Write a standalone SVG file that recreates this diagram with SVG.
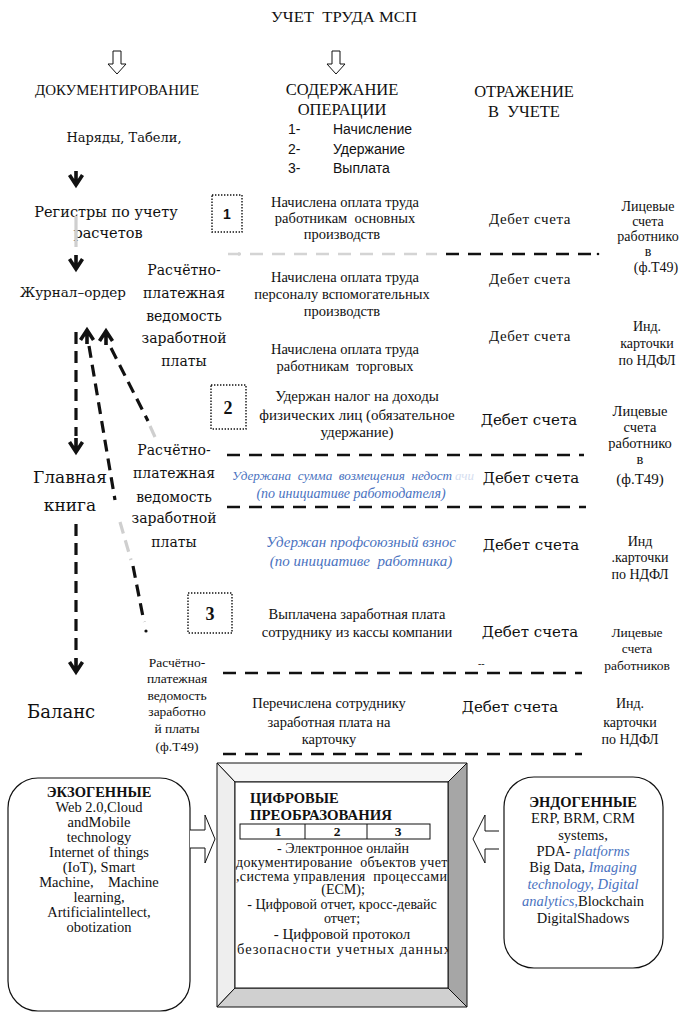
<svg xmlns="http://www.w3.org/2000/svg" xmlns:xlink="http://www.w3.org/1999/xlink" width="685" height="1015" viewBox="0 0 685 1015">
  <defs>
    <style>
      .t { font-family: "Liberation Serif", "Times New Roman", serif; fill: #111; }
      .c { font-family: "DejaVu Serif", "Liberation Serif", serif; fill: #111; }
      .s { font-family: "Liberation Sans", Arial, sans-serif; fill: #111; }
      .blue { font-family: "Liberation Serif", serif; font-style: italic; fill: #4a72c0; }
      .mid { text-anchor: middle; }
      .b { font-weight: bold; }
      .dash { fill: none; stroke: #111; stroke-width: 2.6; stroke-dasharray: 13 9; }
      .dashG { fill: none; stroke: #d4d4d4; stroke-width: 2.6; stroke-dasharray: 13 9; }
      .vdash { fill: none; stroke: #111; stroke-width: 3.2; stroke-dasharray: 12 7; }
      .gray { fill: none; stroke: #cfcfcf; stroke-width: 3.2; }
      .dot { fill: none; stroke: #111; stroke-width: 1.4; stroke-dasharray: 1.4 1.6; }
      .hollow { fill: #fff; stroke: #111; stroke-width: 1; }
      .line { fill: none; stroke: #111; stroke-width: 1; }
    </style>
    <!-- bold chevron arrowhead with a short stem, tip at the origin -->
    <path id="ahDown" d="M-6.5,-10 L0,0 L6.5,-10 M0,-14 V0" fill="none" stroke="#111" stroke-width="3.6" stroke-linejoin="miter"/>
    <clipPath id="frameClip"><rect x="235" y="782" width="213" height="206"/></clipPath>
  </defs>
  <rect width="685" height="1015" fill="#fff"/>

  <!-- headings -->
  <g id="title">
    <text class="t mid" x="344" y="22" font-size="15.5" xml:space="preserve" textLength="146" lengthAdjust="spacingAndGlyphs">УЧЕТ  ТРУДА МСП</text>
  </g>
  <g id="head-doc">
    <text class="t mid" x="117" y="95" font-size="15" textLength="164" lengthAdjust="spacingAndGlyphs">ДОКУМЕНТИРОВАНИЕ</text>
  </g>
  <g id="head-content">
    <text class="t mid" x="342" y="95" font-size="16.5">СОДЕРЖАНИЕ</text>
    <text class="t mid" x="342" y="115" font-size="16.5">ОПЕРАЦИИ</text>
    <text class="s" x="288" y="134" font-size="14">1-</text>
    <text class="s" x="333" y="134" font-size="14">Начисление</text>
    <text class="s" x="288" y="154" font-size="14">2-</text>
    <text class="s" x="333" y="154" font-size="14">Удержание</text>
    <text class="s" x="288" y="173" font-size="14">3-</text>
    <text class="s" x="333" y="173" font-size="14">Выплата</text>
  </g>
  <g id="head-reflect">
    <text class="t mid" x="524" y="97" font-size="16.5">ОТРАЖЕНИЕ</text>
    <text class="t mid" x="524" y="117" font-size="16.5" xml:space="preserve">В  УЧЕТЕ</text>
  </g>

  <!-- documentation chain -->
  <g id="orders">
    <text class="c mid" x="124" y="142" font-size="13">Наряды, Табели,</text>
  </g>
  <g id="registers">
    <text class="c mid" x="106" y="217" font-size="14.5">Регистры по учету</text>
    <text class="c mid" x="108" y="238" font-size="14.5">расчетов</text>
  </g>
  <g id="journal">
    <text class="c" x="20" y="297" font-size="13.5">Журнал–ордер</text>
  </g>
  <g id="ledger">
    <text class="c mid" x="70" y="483" font-size="17">Главная</text>
    <text class="c mid" x="70" y="511" font-size="17">книга</text>
  </g>
  <g id="balance">
    <text class="c" x="27" y="718" font-size="18">Баланс</text>
  </g>

  <!-- payroll statements -->
  <g id="payroll-1">
    <text class="c mid" x="184" y="275" font-size="14">Расчётно-</text>
    <text class="c mid" x="184" y="298" font-size="14">платежная</text>
    <text class="c mid" x="184" y="321" font-size="14">ведомость</text>
    <text class="c mid" x="184" y="343" font-size="14">заработной</text>
    <text class="c mid" x="184" y="366" font-size="14">платы</text>
  </g>
  <g id="payroll-2">
    <text class="c mid" x="174" y="455" font-size="14">Расчётно-</text>
    <text class="c mid" x="174" y="478" font-size="14">платежная</text>
    <text class="c mid" x="174" y="502" font-size="14">ведомость</text>
    <text class="c mid" x="174" y="523" font-size="14">заработной</text>
    <text class="c mid" x="174" y="547" font-size="14">платы</text>
  </g>
  <g id="payroll-3">
    <text class="t mid" x="177" y="667" font-size="13.5">Расчётно-</text>
    <text class="t mid" x="177" y="683" font-size="13.5">платежная</text>
    <text class="t mid" x="177" y="700" font-size="13.5">ведомость</text>
    <text class="t mid" x="177" y="716" font-size="13.5">заработно</text>
    <text class="t mid" x="177" y="733" font-size="13.5">й платы</text>
    <text class="t mid" x="177" y="751" font-size="13.5">(ф.Т49)</text>
  </g>

  <!-- section 1: accrual -->
  <g id="badge-1">
    <rect class="dot" x="212" y="195" width="30" height="37"/>
    <text class="s b mid" x="227" y="219" font-size="14">1</text>
  </g>
  <g id="op-1">
    <text class="t mid" x="345" y="207" font-size="14.5">Начислена оплата труда</text>
    <text class="t mid" x="345" y="223" font-size="14.5" xml:space="preserve">работникам  основных</text>
    <text class="t mid" x="342" y="239" font-size="14.5">производств</text>
    <text class="t mid" x="530" y="224" font-size="15" letter-spacing="0.6">Дебет счета</text>
  </g>
  <g id="op-2">
    <text class="t mid" x="345" y="282" font-size="14.5">Начислена оплата труда</text>
    <text class="t mid" x="342" y="299" font-size="14.5">персоналу вспомогательных</text>
    <text class="t mid" x="342" y="316" font-size="14.5">производств</text>
    <text class="t mid" x="530" y="284" font-size="15" letter-spacing="0.6">Дебет счета</text>
  </g>
  <g id="op-3">
    <text class="t mid" x="345" y="354" font-size="14.5">Начислена оплата труда</text>
    <text class="t mid" x="345" y="371" font-size="14.5" xml:space="preserve">работникам  торговых</text>
    <text class="t mid" x="530" y="341" font-size="15" letter-spacing="0.6">Дебет счета</text>
  </g>
  <g id="acc-1">
    <text class="t mid" x="648" y="211" font-size="14">Лицевые</text>
    <text class="t mid" x="648" y="226" font-size="14">счета</text>
    <text class="t mid" x="648" y="241" font-size="14">работнико</text>
    <text class="t mid" x="648" y="256" font-size="14">в</text>
    <text class="t mid" x="656" y="272" font-size="14">(ф.Т49)</text>
  </g>
  <g id="acc-2">
    <text class="t mid" x="647" y="331" font-size="14">Инд.</text>
    <text class="t mid" x="647" y="348" font-size="14">карточки</text>
    <text class="t mid" x="647" y="365" font-size="14">по НДФЛ</text>
  </g>

  <!-- section 2: deductions -->
  <g id="badge-2">
    <rect class="dot" x="211" y="385" width="35" height="44"/>
    <text class="t b mid" x="228" y="414" font-size="18">2</text>
  </g>
  <g id="op-4">
    <text class="t mid" x="357" y="401" font-size="15">Удержан налог на доходы</text>
    <text class="t mid" x="357" y="420" font-size="15">физических лиц (обязательное</text>
    <text class="t mid" x="357" y="437" font-size="15">удержание)</text>
    <text class="c mid" x="529" y="425" font-size="15">Дебет счета</text>
  </g>
  <g id="op-5">
    <text class="blue" x="232" y="480" font-size="12.5" textLength="220" lengthAdjust="spacingAndGlyphs" xml:space="preserve">Удержана  сумма  возмещения  недост</text>
    <text class="blue" x="455" y="480" font-size="13" style="fill:#d5def0">ачи</text>
    <text class="blue mid" x="351" y="498" font-size="14">(по инициативе работодателя)</text>
    <text class="c mid" x="531" y="483" font-size="15">Дебет счета</text>
  </g>
  <g id="op-6">
    <text class="blue mid" x="361" y="547" font-size="15">Удержан профсоюзный взнос</text>
    <text class="blue mid" x="361" y="566" font-size="15" xml:space="preserve">(по инициативе  работника)</text>
    <text class="c mid" x="531" y="550" font-size="15">Дебет счета</text>
  </g>
  <g id="acc-3">
    <text class="t mid" x="640" y="416" font-size="14.5">Лицевые</text>
    <text class="t mid" x="640" y="432" font-size="14.5">счета</text>
    <text class="t mid" x="640" y="448" font-size="14.5">работнико</text>
    <text class="t mid" x="640" y="464" font-size="14.5">в</text>
    <text class="t mid" x="640" y="484" font-size="15">(ф.Т49)</text>
  </g>
  <g id="acc-4">
    <text class="t mid" x="640" y="546" font-size="14">Инд</text>
    <text class="t mid" x="640" y="562" font-size="14">.карточки</text>
    <text class="t mid" x="640" y="579" font-size="14">по НДФЛ</text>
  </g>

  <!-- section 3: payment -->
  <g id="badge-3">
    <rect class="dot" x="188" y="593" width="44" height="40"/>
    <text class="t b mid" x="210" y="620" font-size="18">3</text>
  </g>
  <g id="op-7">
    <text class="t mid" x="357" y="619" font-size="14.5">Выплачена заработная плата</text>
    <text class="t mid" x="357" y="637" font-size="14.5">сотруднику из кассы компании</text>
    <text class="c mid" x="530" y="637" font-size="15">Дебет счета</text>
    <text class="t" x="478" y="667" font-size="10">--</text>
  </g>
  <g id="op-8">
    <text class="t mid" x="329" y="708" font-size="14.5">Перечислена сотруднику</text>
    <text class="t mid" x="329" y="727" font-size="14.5">заработная плата на</text>
    <text class="t mid" x="329" y="744" font-size="14.5">карточку</text>
    <text class="c mid" x="510" y="712" font-size="15">Дебет счета</text>
  </g>
  <g id="acc-5">
    <text class="t mid" x="637" y="637" font-size="13.5">Лицевые</text>
    <text class="t mid" x="637" y="653" font-size="13.5">счета</text>
    <text class="t mid" x="637" y="670" font-size="13.5">работников</text>
  </g>
  <g id="acc-6">
    <text class="t mid" x="630" y="708" font-size="14">Инд.</text>
    <text class="t mid" x="630" y="727" font-size="14">карточки</text>
    <text class="t mid" x="630" y="744" font-size="14">по НДФЛ</text>
  </g>

  <!-- digital transformation block -->
  <g id="exogenous">
    <rect x="8" y="778" width="182" height="233" rx="30" ry="30" fill="#fff" stroke="#111" stroke-width="1.2"/>
    <text class="t b mid" x="99" y="797" font-size="14.5">ЭКЗОГЕННЫЕ</text>
    <text class="t mid" x="99" y="812" font-size="14.5">Web 2.0,Cloud</text>
    <text class="t mid" x="99" y="827" font-size="14.5">andMobile</text>
    <text class="t mid" x="99" y="842" font-size="14.5">technology</text>
    <text class="t mid" x="99" y="857" font-size="14.5">Internet of things</text>
    <text class="t mid" x="99" y="872" font-size="14.5">(IoT), Smart</text>
    <text class="t mid" x="99" y="887" font-size="14.5" xml:space="preserve">Machine,    Machine</text>
    <text class="t mid" x="99" y="902" font-size="14.5">learning,</text>
    <text class="t mid" x="99" y="917" font-size="14.5">Artificialintellect,</text>
    <text class="t mid" x="99" y="932" font-size="14.5">obotization</text>
  </g>
  <g id="digital">
    <!-- bevelled frame -->
    <polygon points="217,763 467,763 448,782 235,782" fill="#f6f6f6" stroke="#111" stroke-width="1"/>
    <polygon points="217,763 235,782 235,988 217,1007" fill="#eeeeee" stroke="#111" stroke-width="1"/>
    <polygon points="467,763 467,1007 448,988 448,782" fill="#a6a6a6" stroke="#111" stroke-width="1"/>
    <polygon points="217,1007 235,988 448,988 467,1007" fill="#d0d0d0" stroke="#111" stroke-width="1"/>
    <rect x="235" y="782" width="213" height="206" fill="#fff" stroke="#111" stroke-width="1"/>
    <text class="t b" x="250" y="803" font-size="14.5">ЦИФРОВЫЕ</text>
    <text class="t b" x="250" y="820" font-size="14.5" textLength="142" lengthAdjust="spacingAndGlyphs">ПРЕОБРАЗОВАНИЯ</text>
    <rect class="line" x="240" y="824" width="190" height="15"/>
    <line class="line" x1="305" y1="824" x2="305" y2="839"/>
    <line class="line" x1="367" y1="824" x2="367" y2="839"/>
    <text class="t b mid" x="278" y="836" font-size="13.5">1</text>
    <text class="t b mid" x="337" y="836" font-size="13.5">2</text>
    <text class="t b mid" x="398" y="836" font-size="13.5">3</text>
    <g clip-path="url(#frameClip)">
      <text class="t mid" x="343" y="853" font-size="14">- Электронное онлайн</text>
      <text class="t" x="236" y="867" font-size="14" xml:space="preserve" textLength="218" lengthAdjust="spacing">документирование  объектов учета</text>
      <text class="t" x="236" y="881" font-size="14" xml:space="preserve" textLength="211" lengthAdjust="spacing">,система управления  процессами</text>
      <text class="t mid" x="343" y="894" font-size="14">(ECM);</text>
      <text class="t mid" x="342" y="909" font-size="14">- Цифровой отчет, кросс-девайс</text>
      <text class="t mid" x="342" y="923" font-size="14">отчет;</text>
      <text class="t mid" x="342" y="939" font-size="15">- Цифровой протокол</text>
      <text class="t" x="237" y="954" font-size="14.5" textLength="214" lengthAdjust="spacing">безопасности учетных данных</text>
    </g>
  </g>
  <g id="endogenous">
    <rect x="504" y="777" width="159" height="191" rx="30" ry="30" fill="#fff" stroke="#111" stroke-width="1.2"/>
    <text class="t b mid" x="583" y="807" font-size="14.5">ЭНДОГЕННЫЕ</text>
    <text class="t mid" x="583" y="823" font-size="14.5">ERP, BRM, CRM</text>
    <text class="t mid" x="583" y="840" font-size="14.5">systems,</text>
    <text class="t mid" x="583" y="856" font-size="14.5">PDA- <tspan class="blue">platforms</tspan></text>
    <text class="t mid" x="583" y="872" font-size="14.5">Big Data, <tspan class="blue">Imaging</tspan></text>
    <text class="blue mid" x="583" y="889" font-size="14.5">technology, Digital</text>
    <text class="t mid" x="583" y="906" font-size="14.5"><tspan class="blue">analytics,</tspan>Blockchain</text>
    <text class="t mid" x="583" y="923" font-size="14.5">DigitalShadows</text>
  </g>

  <!-- connectors -->
  <g id="connectors">
    <!-- hollow heading arrows -->
    <path class="hollow" d="M113,51 V64 H108 L117,74 L126,64 H121 V51 Z"/>
    <path class="hollow" d="M332,51 V64 H327 L336,74 L345,64 H340 V51 Z"/>

    <!-- documentation chain -->
    <use xlink:href="#ahDown" x="76" y="185"/>
    <line class="gray" x1="76" y1="216" x2="76" y2="247"/>
    <use xlink:href="#ahDown" x="76" y="269"/>
    <line class="vdash" x1="76" y1="332" x2="76" y2="436"/>
    <use xlink:href="#ahDown" x="76" y="452"/>
    <line class="vdash" x1="76" y1="524" x2="76" y2="655"/>
    <use xlink:href="#ahDown" x="76" y="672"/>

    <!-- payroll statements up to the journal-order -->
    <use xlink:href="#ahDown" transform="translate(87,330) rotate(180)"/>
    <line class="vdash" x1="89" y1="346" x2="115" y2="500"/>
    <line class="gray" x1="120" y1="522" x2="131" y2="560" stroke-dasharray="12 7"/>
    <line class="vdash" x1="133" y1="566" x2="144" y2="622"/>
    <circle cx="146" cy="631" r="1.6" fill="#111"/>
    <use xlink:href="#ahDown" transform="translate(106,331) rotate(180)"/>
    <line class="vdash" x1="111" y1="348" x2="148" y2="421"/>
    <line class="gray" x1="150" y1="426" x2="155" y2="437"/>

    <!-- row separators -->
    <circle cx="239" cy="254" r="1.3" fill="#111"/>
    <line class="dashG" x1="228" y1="254" x2="437" y2="254"/>
    <line class="dash" x1="446" y1="254" x2="592" y2="254"/>
    <circle cx="598" cy="254" r="1.3" fill="#111"/>
    <line class="dash" x1="227" y1="455" x2="584" y2="455"/>
    <line class="dash" x1="227" y1="507" x2="586" y2="507"/>
    <line class="dash" x1="223" y1="673" x2="582" y2="673"/>
    <line class="dash" x1="223" y1="754" x2="582" y2="754"/>

    <!-- arrows into the digital block -->
    <path class="hollow" d="M190,830 H205 V815 L215,839 L205,863 V848 H190"/>
    <path class="hollow" d="M499,831 H485 V815 L473,839 L485,863 V849 H499"/>
  </g>
</svg>
